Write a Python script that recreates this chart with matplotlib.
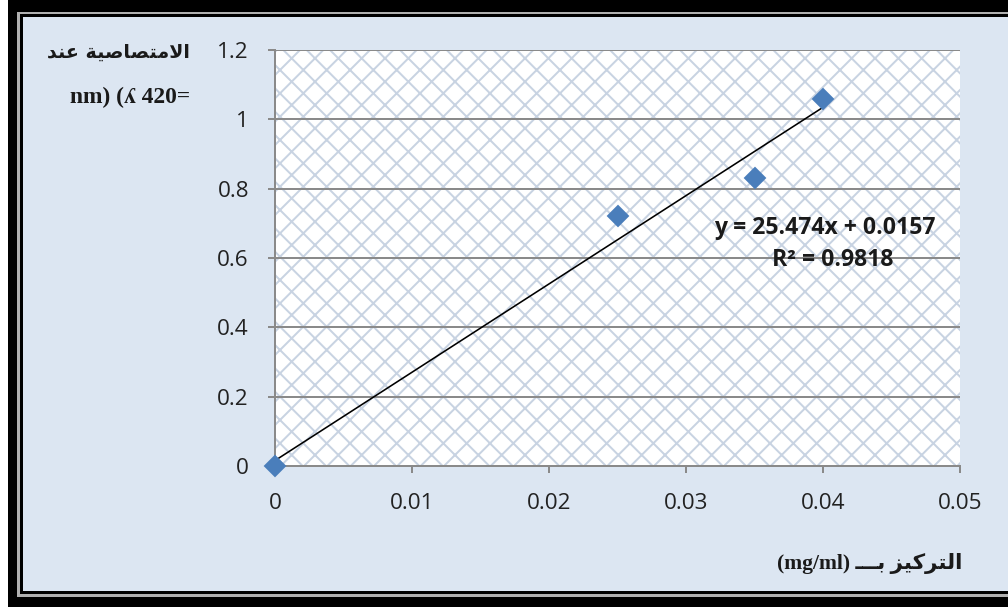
import matplotlib.pyplot as plt
from matplotlib.patches import Rectangle
import numpy as np

# data
conc = [0, 0.025, 0.035, 0.04]
absorb = [0, 0.72, 0.83, 1.06]
slope, intercept = 25.474, 0.0157
fit_x = np.array([0, 0.04])
x_ticks = [0, 0.01, 0.02, 0.03, 0.04, 0.05]
y_ticks = [0, 0.2, 0.4, 0.6, 0.8, 1, 1.2]
x_tick_labels = ["0", "0.01", "0.02", "0.03", "0.04", "0.05"]
y_tick_labels = ["0", "0.2", "0.4", "0.6", "0.8", "1", "1.2"]

# arabic text written in visual order with presentation forms (no shaping in matplotlib)
ylabel_ar = "\uFEAA\uFEE8\uFECB \uFE94\uFEF4\uFEBB\uFE8E\uFEBC\uFE98\uFEE3\uFEFB\uFE8D"  # الامتصاصية عند
ylabel_nm = "nm) (\u028E 420="
xlabel_ar = "\u0640\u0640\u0640\uFE91 \uFEB0\uFEF4\uFEDB\uFEAE\uFE98\uFEDF\uFE8D"  # التركيز بـــ

W, H = 1008, 607
DPI = 140  # picked so the 'xx' hatch comes out at ~20px like the original
BG = "#dce6f2"
GRID = "#8a8a8a"


def pt(px):
    # pixel size -> points at this dpi
    return px * 72.0 / DPI


plt.rcParams["hatch.linewidth"] = pt(2.0)

fig = plt.figure(figsize=(W / DPI, H / DPI), dpi=DPI, facecolor=BG)


def band(x0, y0, x1, y1, color):
    fig.add_artist(Rectangle((x0 / W, 1 - y1 / H), (x1 - x0) / W, (y1 - y0) / H,
                             transform=fig.transFigure, facecolor=color, lw=0, zorder=-5))


# frame around the picture
band(0, 0, 8, H, "white")
band(8, 0, W, 12, "black")
band(8, 0, 17, H, "black")
band(8, 597, W, H, "black")
band(17, 12, W, 14, "#b0b0b0")
band(17, 12, 20, 597, "#b0b0b0")
band(17, 594, W, 597, "#b0b0b0")
band(20, 14, W, 17, "black")
band(20, 14, 23, 594, "black")
band(20, 591, W, 594, "black")

ax = fig.add_axes([275 / W, 1 - 466 / H, 685 / W, 416 / H])
ax.set_facecolor("white")
ax.add_patch(Rectangle((0, 0), 1, 1, transform=ax.transAxes, facecolor="white",
                       edgecolor="#c8d3e2", hatch="xx", lw=0, zorder=0))

ax.set_xlim(0, 0.05)
ax.set_ylim(0, 1.2)
ax.set_xticks(x_ticks)
ax.set_xticklabels(x_tick_labels)
ax.set_yticks(y_ticks)
ax.set_yticklabels(y_tick_labels)

ax.yaxis.grid(True, color=GRID, lw=pt(2), zorder=1)
ax.set_axisbelow(True)
for s in ["top", "right"]:
    ax.spines[s].set_visible(False)
for s in ["left", "bottom"]:
    ax.spines[s].set_color(GRID)
    ax.spines[s].set_linewidth(pt(2))

ax.tick_params(axis="both", direction="out", length=pt(7), width=pt(2), color=GRID,
               labelcolor="#222222")
ax.tick_params(axis="y", pad=pt(19))
ax.tick_params(axis="x", pad=pt(20))
for lab in ax.get_xticklabels() + ax.get_yticklabels():
    lab.set_fontfamily("Open Sans")
    lab.set_fontsize(pt(22.5))

ax.plot(fit_x, slope * fit_x + intercept, color="black", lw=pt(1.6), zorder=3)
ax.plot(conc, absorb, linestyle="none", marker="D", markersize=pt(13.5),
        color="#4a7ebb", markeredgecolor="#4a7ebb", zorder=4, clip_on=False)

eq_font = dict(fontfamily="Open Sans", fontweight="bold", fontsize=pt(23),
               color="#1a1a1a", zorder=5, ha="center", va="center")
ax.text(0.04015, 0.6865, "y = 25.474x + 0.0157", **eq_font)
ax.text(0.0407, 0.594, "R\u00b2 = 0.9818", **eq_font)

fig.text(190 / W, 1 - 52 / H, ylabel_ar, ha="right", va="center",
         family=["DejaVu Sans"], fontweight="bold", fontsize=pt(19), color="#1a1a1a")
fig.text(190 / W, 1 - 97 / H, ylabel_nm, ha="right", va="center",
         family=["Liberation Serif", "DejaVu Serif"], fontweight="bold", fontsize=pt(23.5),
         color="#1a1a1a")
fig.text(962 / W, 1 - 564 / H, "(mg/ml) " + xlabel_ar, ha="right", va="center",
         family=["Liberation Serif", "DejaVu Sans"], fontweight="bold", fontsize=pt(21.5),
         color="#1a1a1a")

fig.savefig("out.png", dpi=DPI, facecolor=BG)
